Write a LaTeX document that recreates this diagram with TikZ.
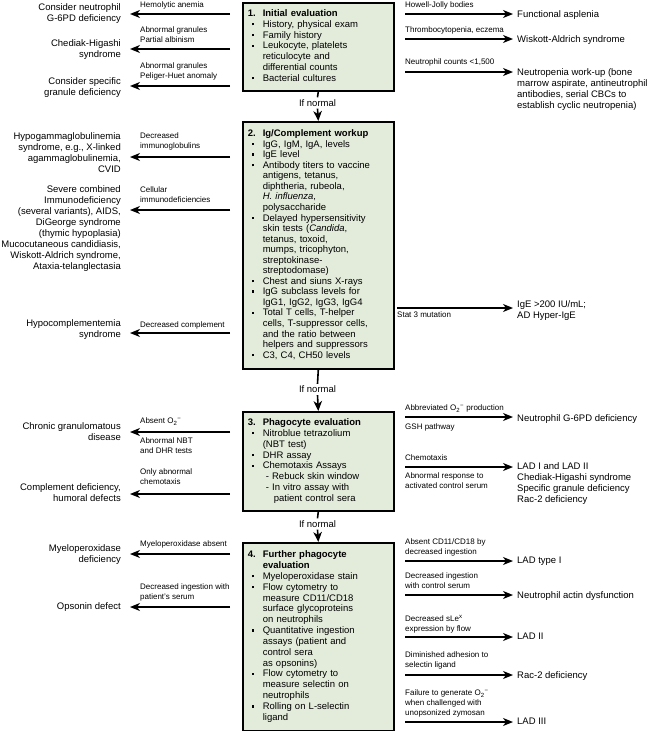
\documentclass[tikz,border=0pt]{standalone}
\usepackage{fontspec}
\setmainfont{Liberation Sans}
\usetikzlibrary{arrows.meta}
\definecolor{boxgreen}{RGB}{227,236,219}
\newcommand{\sqb}{\hspace*{4pt}\rule[2pt]{2.4pt}{2.4pt}}
\newcommand{\mtxt}{\fontsize{9.5}{11}\selectfont}
\newcommand{\ltxt}{\fontsize{8}{10}\selectfont}
\newcommand{\Osup}{O\textsubscript{2}\textsuperscript{−}}
\begin{document}
\begin{tikzpicture}[x=1pt,y=-1pt,
  box/.style={draw, line width=1.6pt, fill=boxgreen, anchor=north west, inner xsep=5pt, inner ysep=0pt, text width=141pt, align=left},
  tl/.style={anchor=north east, inner sep=0pt, align=right, font=\mtxt},
  tr/.style={anchor=north west, inner sep=0pt, align=left, font=\mtxt},
  lab/.style={anchor=north west, inner sep=0pt, align=left, font=\ltxt},
  ifn/.style={inner sep=2pt, font=\mtxt},
  arr/.style={line width=1.4pt, -{Stealth[length=10pt,width=8pt,inset=3pt]}},
  larr/.style={arr, shorten >=9pt},
  rarr/.style={arr, shorten >=4pt},
  vline/.style={line width=1.6pt},
  varr/.style={line width=1.6pt, -{Stealth[length=10pt,width=8.5pt,inset=3pt]}}
]
\useasboundingbox (0,0) rectangle (650,731);

% ---------- boxes ----------
\node[box, minimum height=88pt, font=\fontsize{9.5}{10.8}\selectfont] (b1) at (242,2) {\noindent\begin{tabular}{@{}p{15pt}@{}l@{}}
\textbf{1.}&\textbf{Initial evaluation}\\
\sqb&History, physical exam\\
\sqb&Family history\\
\sqb&Leukocyte, platelets\\
&reticulocyte and\\
&differential counts\\
\sqb&Bacterial cultures
\end{tabular}};

\node[box, minimum height=247pt, font=\fontsize{9.5}{10.55}\selectfont] (b2) at (242,121) {\noindent\begin{tabular}{@{}p{15pt}@{}l@{}}
\textbf{2.}&\textbf{Ig/Complement workup}\\
\sqb&IgG, IgM, IgA, levels\\
\sqb&IgE level\\
\sqb&Antibody titers to vaccine\\
&antigens, tetanus,\\
&diphtheria, rubeola,\\
&\textit{H. influenza},\\
&polysaccharide\\
\sqb&Delayed hypersensitivity\\
&skin tests (\textit{Candida},\\
&tetanus, toxoid,\\
&mumps, tricophyton,\\
&streptokinase-\\
&streptodomase)\\
\sqb&Chest and siuns X-rays\\
\sqb&IgG subclass levels for\\
&IgG1, IgG2, IgG3, IgG4\\
\sqb&Total T cells, T-helper\\
&cells, T-suppressor cells,\\
&and the ratio between\\
&helpers and suppressors\\
\sqb&C3, C4, CH50 levels
\end{tabular}};

\node[box, minimum height=99pt, font=\fontsize{9.5}{10.9}\selectfont] (b3) at (242,411) {\noindent\begin{tabular}{@{}p{15pt}@{}l@{}}
\textbf{3.}&\textbf{Phagocyte evaluation}\\
\sqb&Nitroblue tetrazolium\\
&(NBT test)\\
\sqb&DHR assay\\
\sqb&Chemotaxis Assays\\
&\hspace*{3pt}- Rebuck skin window\\
&\hspace*{3pt}- In vitro assay with\\
&\hspace*{11pt}patient control sera
\end{tabular}};

\node[box, minimum height=188pt, font=\fontsize{9.5}{10.85}\selectfont] (b4) at (242,542) {\noindent\begin{tabular}{@{}p{15pt}@{}l@{}}
\textbf{4.}&\textbf{Further phagocyte}\\
&\textbf{evaluation}\\
\sqb&Myeloperoxidase stain\\
\sqb&Flow cytometry to\\
&measure CD11/CD18\\
&surface glycoproteins\\
&on neutrophils\\
\sqb&Quantitative ingestion\\
&assays (patient and\\
&control sera\\
&as opsonins)\\
\sqb&Flow cytometry to\\
&measure selectin on\\
&neutrophils\\
\sqb&Rolling on L-selectin\\
&ligand
\end{tabular}};

% ---------- vertical connectors ----------
\node[ifn] (n1) at (317.5,103) {If normal};
\node[ifn] (n2) at (317.5,389.5) {If normal};
\node[ifn] (n3) at (317.5,524) {If normal};
\draw[vline] (b1.south) -- (n1.north);
\draw[varr] (n1.south) -- (b2.north);
\draw[vline] (b2.south) -- (n2.north);
\draw[varr] (n2.south) -- (b3.north);
\draw[vline] (b3.south) -- (n3.north);
\draw[varr] (n3.south) -- (b4.north);

% ---------- left side ----------
\coordinate (l1s) at (230,14);
\node[tl] (l1t) at (121,3.2) {Consider neutrophil\\G-6PD deficiency};
\node[lab] (l1a) at (140,1.8) {Hemolytic anemia};
\draw[larr] (l1s) -- (l1s -| l1t.east);

\coordinate (l2s) at (230,49);
\node[tl] (l2t) at (121,39.2) {Chediak-Higashi\\syndrome};
\node[lab] (l2a) at (140,26.8) {Abnormal granules\\Partial albinism};
\draw[larr] (l2s) -- (l2s -| l2t.east);

\coordinate (l3s) at (230,86);
\node[tl] (l3t) at (121,77.2) {Consider specific\\granule deficiency};
\node[lab] (l3a) at (140,62.8) {Abnormal granules\\Peliger-Huet anomaly};
\draw[larr] (l3s) -- (l3s -| l3t.east);

\coordinate (l4s) at (230,157);
\node[tl] (l4t) at (121,132.2) {Hypogammaglobulinemia\\syndrome, e.g., X-linked\\agammaglobulinemia,\\CVID};
\node[lab] (l4a) at (140,132.8) {Decreased\\immunoglobulins};
\draw[larr] (l4s) -- (l4s -| l4t.east);

\coordinate (l5s) at (230,210);
\node[tl] (l5t) at (121,185.2) {Severe combined\\Immunodeficiency\\(several variants), AIDS,\\DiGeorge syndrome\\(thymic hypoplasia)\\Mucocutaneous candidiasis,\\Wiskott-Aldrich syndrome,\\Ataxia-telanglectasia};
\node[lab] (l5a) at (140,186.8) {Cellular\\immunodeficiencies};
\draw[larr] (l5s) -- (l5s -| l5t.east);

\coordinate (l6s) at (230,333);
\node[tl] (l6t) at (121,319.2) {Hypocomplementemia\\syndrome};
\node[lab] (l6a) at (140,321.8) {Decreased complement};
\draw[larr] (l6s) -- (l6s -| l6t.east);

\coordinate (l7s) at (230,432);
\node[tl] (l7t) at (121,422.2) {Chronic granulomatous\\disease};
\node[lab] (l7a) at (140,417.8) {Absent \Osup};
\node[lab] (l7b) at (140,437.8) {Abnormal NBT\\and DHR tests};
\draw[larr] (l7s) -- (l7s -| l7t.east);

\coordinate (l8s) at (230,494);
\node[tl] (l8t) at (121,483.2) {Complement deficiency,\\humoral defects};
\node[lab] (l8a) at (140,468.8) {Only abnormal\\chemotaxis};
\draw[larr] (l8s) -- (l8s -| l8t.east);

\coordinate (l9s) at (230,554);
\node[tl] (l9t) at (121,544.2) {Myeloperoxidase\\deficiency};
\node[lab] (l9a) at (140,540.8) {Myeloperoxidase absent};
\draw[larr] (l9s) -- (l9s -| l9t.east);

\coordinate (l10s) at (230,607);
\node[tl] (l10t) at (121,602.2) {Opsonin defect};
\node[lab] (l10a) at (140,583.8) {Decreased ingestion with\\patient's serum};
\draw[larr] (l10s) -- (l10s -| l10t.east);

% ---------- right side ----------
\coordinate (r1s) at (405,14);
\node[tr] (r1t) at (517,10.2) {Functional asplenia};
\node[lab] (r1a) at (405,1.8) {Howell-Jolly bodies};
\draw[rarr] (r1s) -- (r1s -| r1t.west);

\coordinate (r2s) at (405,39);
\node[tr] (r2t) at (517,35.2) {Wiskott-Aldrich syndrome};
\node[lab] (r2a) at (405,26.8) {Thrombocytopenia, eczema};
\draw[rarr] (r2s) -- (r2s -| r2t.west);

\coordinate (r3s) at (405,72);
\node[tr] (r3t) at (517,68.2) {Neutropenia work-up (bone\\marrow aspirate, antineutrophil\\antibodies, serial CBCs to\\establish cyclic neutropenia)};
\node[lab] (r3a) at (405,58.8) {Neutrophil counts <1,500};
\draw[rarr] (r3s) -- (r3s -| r3t.west);

\coordinate (r4s) at (397,308);
\node[tr] (r4t) at (517,300.7) {IgE >200 IU/mL;\\AD Hyper-IgE};
\node[lab] (r4a) at (397,311) {Stat 3 mutation};
\draw[rarr] (r4s) -- (r4s -| r4t.west);

\coordinate (r5s) at (405,417);
\node[tr] (r5t) at (517,414.2) {Neutrophil G-6PD deficiency};
\node[lab] (r5a) at (405,404.8) {Abbreviated \Osup{} production};
\node[lab] (r5b) at (405,423.8) {GSH pathway};
\draw[rarr] (r5s) -- (r5s -| r5t.west);

\coordinate (r6s) at (405,467);
\node[tr] (r6t) at (517,462.2) {LAD I and LAD II\\Chediak-Higashi syndrome\\Specific granule deficiency\\Rac-2 deficiency};
\node[lab] (r6a) at (405,454.8) {Chemotaxis};
\node[lab] (r6b) at (405,472.8) {Abnormal response to\\activated control serum};
\draw[rarr] (r6s) -- (r6s -| r6t.west);

\coordinate (r7s) at (405,561);
\node[tr] (r7t) at (517,557.2) {LAD type I};
\node[lab] (r7a) at (405,538.8) {Absent CD11/CD18 by\\decreased ingestion};
\draw[rarr] (r7s) -- (r7s -| r7t.west);

\coordinate (r8s) at (405,595);
\node[tr] (r8t) at (517,591.2) {Neutrophil actin dysfunction};
\node[lab] (r8a) at (405,572.8) {Decreased ingestion\\with control serum};
\draw[rarr] (r8s) -- (r8s -| r8t.west);

\coordinate (r9s) at (405,637);
\node[tr] (r9t) at (517,633.2) {LAD II};
\node[lab] (r9a) at (405,614.8) {Decreased sLe\textsuperscript{x}\\expression by flow};
\draw[rarr] (r9s) -- (r9s -| r9t.west);

\coordinate (r10s) at (405,675);
\node[tr] (r10t) at (517,671.2) {Rac-2 deficiency};
\node[lab] (r10a) at (405,651.8) {Diminished adhesion to\\selectin ligand};
\draw[rarr] (r10s) -- (r10s -| r10t.west);

\coordinate (r11s) at (405,722);
\node[tr] (r11t) at (517,718.2) {LAD III};
\node[lab] (r11a) at (405,689.8) {Failure to generate \Osup\\when challenged with\\unopsonized zymosan};
\draw[rarr] (r11s) -- (r11s -| r11t.west);
\end{tikzpicture}
\end{document}
